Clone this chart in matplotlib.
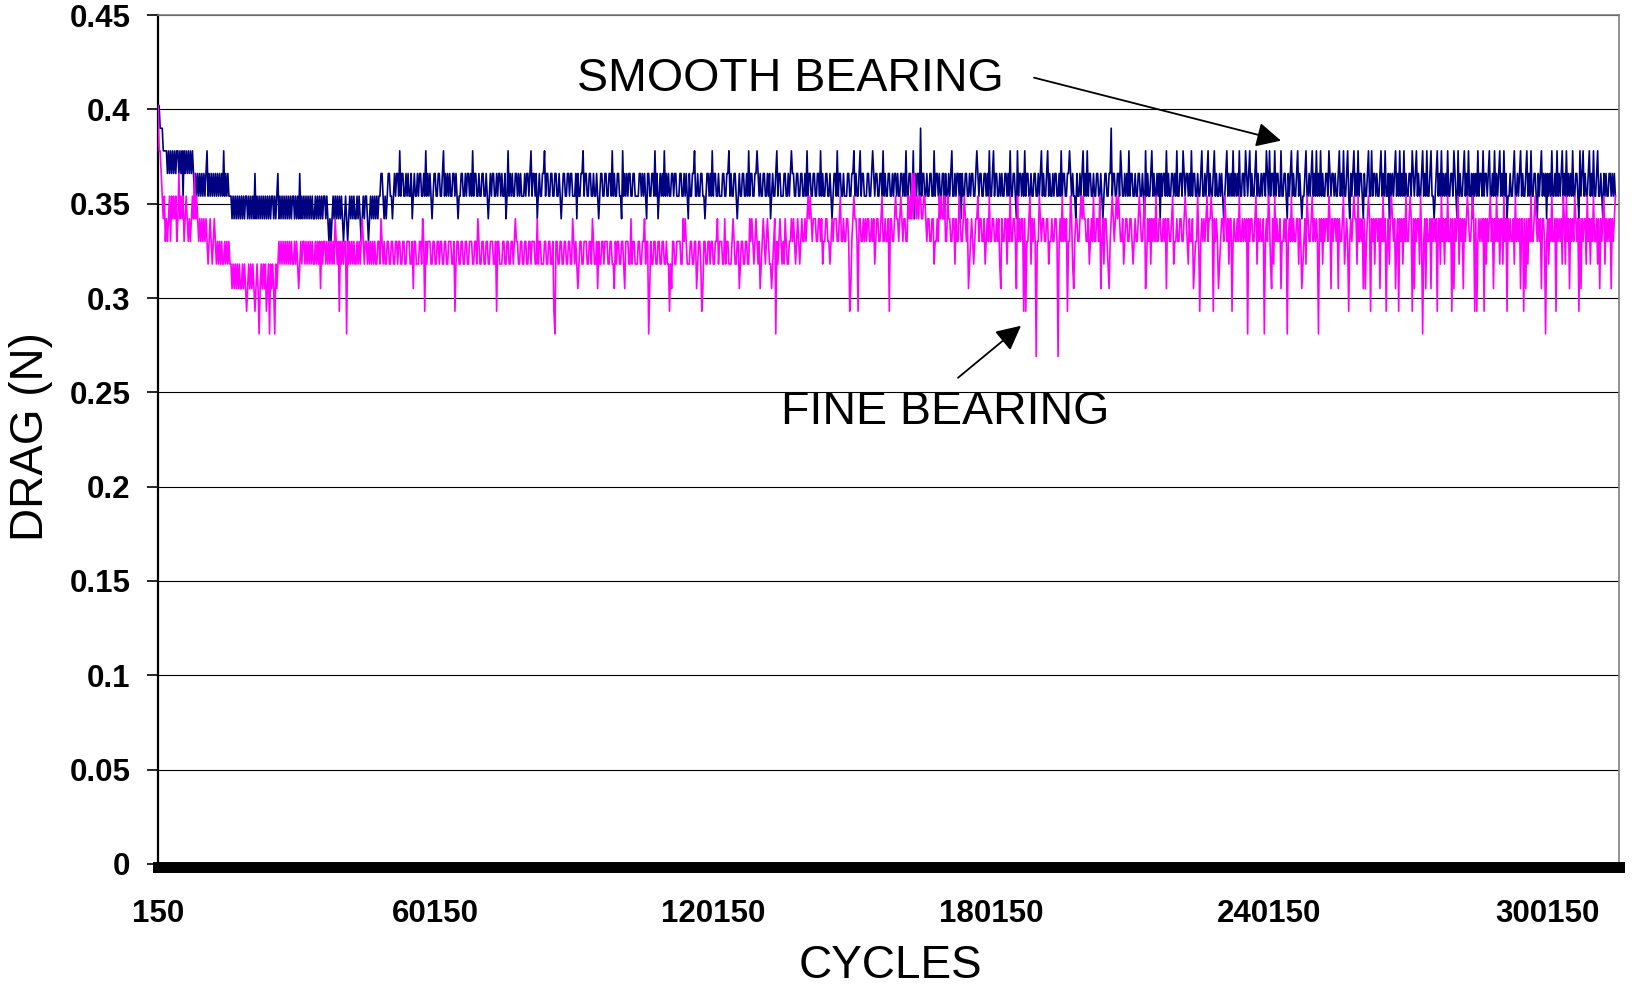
import numpy as np
import matplotlib
matplotlib.use("Agg")
import matplotlib.pyplot as plt

plt.rcParams['font.family'] = ['Liberation Sans', 'DejaVu Sans']

# drag readings are quantised by the load cell, one code per level
drag_levels = [0.402, 0.390, 0.378, 0.366, 0.354, 0.342,
               0.330, 0.318, 0.305, 0.293, 0.281, 0.269]
level_codes = "0123456789ab"

cycle_start = 150
cycle_step = 225

smooth_codes = """
0011122223 2323232322 3232423232 3232343434 3434343243 4343434343 4342434344
4545454545 4545445454 5453545454 5454545454 4545435454 5454545454 4545453545
4545454545 5454545454 4545656545 4545454565 4565454545 5454565454 4565454545
4544334545 4334454343 3424334434 3443543443 4334434243 4345433443 3443243434
3443343454 4334434334 3424334434 4334434543 4334434334 3443542434 3443343434
4434334324 3343543443 3243344334 4334434543 3443343344 4353443324 3344334434
4345433443 3443342434 4334452434 3433443344 4433434345 3344334243 5434342434
3443343344 4334434345 3443324434 4334454334 3424334434 4433443324 3443345434
4334434243 3443323434 4334434354 3443243344 4334434323 3443344334 4342433443
3443342434 4334434543 3424334434 4433443324 3443243344 4334432343 3443342434
4334434334 3443343424 4334425343 3414334434 4334424334 3443353443 4324434334
3534433443 4334432343 3443343424 4324334434 3443343424 4334524334 3424334434
4334434324 3443243443 4334434243 3443323434 4534434324 3424334434 4334434543
3443314334 4334234434 3424334434 4334434524 3443243443 4353433424 3443343424
4334234334 3424334434 4324434324 3443243443 4345432434 3424343424 4334234324
3443243443 4334234243 3424334424 4334534324 3443243454 4324434324 3424342434
4334234334 3443243424 4324534324 3424334534 4324424334 3443243424 4353434324
3424342434 4334234324 3443243424 4324454324 3424343424 4334234524 3443243424
4353434243 3424334324 4342434324 3424354434 4324434324 3443243424 4334534324
3435343424 4342434324 3424343424 4334524324 3443243424 4324434534 3443343434
"""

fine_codes = """
0223454656 5464545465 3545465456 5654535456 5656565676 5676567676 7677676767
7878787878 8787898787 8789878a87 8787987a78 78a7876767 6767676767 7676787676
6767676767 7676768676 6767676767 5676967676 6a67676767 7676765676 6767676767
7667567677 6677667766 7667766776 6677686677 7667569676 6677667766 7667766776
6677697667 7667766776 6677667567 7667766776 6677696677 7667766776 6765667766
7766776676 6677576677 7667766776 9a66776677 6677667756 7678766776 6677667567
7686776676 6677667786 7667766786 6677576677 7667766576 6a86776677 6677667767
7978667766 6677565677 7667766876 6798667766 7667766576 6677576677 7656776687
6677667756 5676567687 6567656778 765a676567 6756776656 5676567656 6565454565
5566556576 6556676565 5566546656 6556986545 5695566565 6556656576 5566546656
6595566545 5654565566 4545353454 5445544565 5665576656 4545546645 5665575664
5665456587 6567655465 5665765646 6556656578 5665575646 6556846565 5959665475
656b664565 5665576656 6556b65646 5659664578 6556654545 5665765646 6556486575
5678654565 4545665765 5665567656 6545665487 5657565646 6556656585 5665476656
6556654567 5665876646 9656565465 5459565687 6556456575 5965665646 656565a565
5665475656 65a6564578 5746566586 6565a65646 5665575687 6574566546 5656a56575
6556458565 5658566547 6569656545 5746565858 6545956575 5658564659 6575456586
5956575646 6545958565 5746a65856 6585656595 5746575646 6595856547 5658565456
6545959656 5659575654 6585646575 5746595656 6574656585 5958575646 6545656585
56a6575646 6595656574 5746585656 4565958565 5746575646 6575856547 5656585654
"""


def decode(codes):
    chars = "".join(codes.split())
    return np.array([drag_levels[level_codes.index(c)] for c in chars])


smooth_drag = decode(smooth_codes)
fine_drag = decode(fine_codes)
smooth_cycles = cycle_start + cycle_step * np.arange(len(smooth_drag))
fine_cycles = cycle_start + cycle_step * np.arange(len(fine_drag))

y_ticks = [0, 0.05, 0.1, 0.15, 0.2, 0.25, 0.3, 0.35, 0.4, 0.45]
y_tick_labels = ["0", "0.05", "0.1", "0.15", "0.2", "0.25", "0.3", "0.35", "0.4", "0.45"]
x_ticks = [150, 60150, 120150, 180150, 240150, 300150]

fig = plt.figure(figsize=(16.33, 9.94), dpi=100)
ax = fig.add_axes([0.0968, 0.1308, 0.8946, 0.8541])

# spine setup first: moving a spine resets the tick objects
ax.spines['left'].set_linewidth(1.6)
ax.spines['bottom'].set_linewidth(7.9)
ax.spines['bottom'].set_position(('outward', 2.5))
ax.spines['top'].set_color('#808080')
ax.spines['right'].set_color('#808080')
ax.spines['top'].set_linewidth(1.2)
ax.spines['right'].set_linewidth(1.2)

ax.plot(smooth_cycles, smooth_drag, color='#000080', lw=1.2, zorder=3)
ax.plot(fine_cycles, fine_drag, color='#FF00FF', lw=1.2, zorder=4)

ax.set_xlim(150, 315700)
ax.set_ylim(0, 0.45)

ax.set_yticks(y_ticks)
ax.set_yticklabels(y_tick_labels, fontsize=22.5, fontweight='bold')
ax.set_xticks(x_ticks)
ax.set_xticklabels([str(v) for v in x_ticks], fontsize=22.5, fontweight='bold')
ax.tick_params(axis='y', direction='out', length=8, width=1.2, pad=12)
ax.tick_params(axis='x', length=0, pad=23)

ax.yaxis.grid(True, color='black', lw=0.8)
ax.set_axisbelow(True)

ax.set_ylabel("DRAG (N)", fontsize=33)
ax.yaxis.set_label_coords(-0.087, 0.503)
ax.set_xlabel("CYCLES", fontsize=33)
ax.xaxis.set_label_coords(0.501, -0.12)
ax.xaxis.label.set_va('center')
ax.yaxis.label.set_va('center')

arrow = dict(arrowstyle='-|>,head_length=0.5,head_width=0.25', color='black',
             lw=1.3, mutation_scale=30, shrinkA=0, shrinkB=0)
ax.text(136650, 0.416, "SMOOTH BEARING", ha='center', va='center', fontsize=33.5)
ax.annotate("", xy=(242700, 0.3834), xytext=(189350, 0.4168), arrowprops=arrow)
ax.text(170130, 0.2395, "FINE BEARING", ha='center', va='center', fontsize=33.5)
ax.annotate("", xy=(186540, 0.2853), xytext=(172930, 0.2577), arrowprops=arrow)

fig.savefig("out.png", dpi=100)
